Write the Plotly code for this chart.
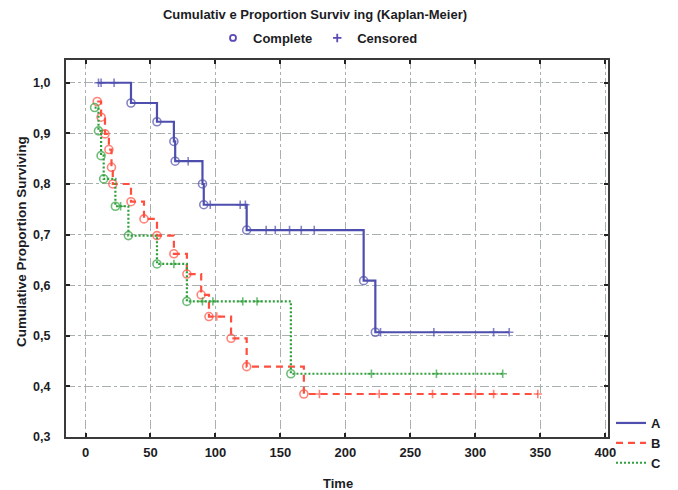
import plotly.graph_objects as go

# ---- data ----
a_time   = [10, 12, 22, 35, 55, 68, 69, 79, 90, 91, 96, 119, 123, 124, 139, 146, 157, 166, 176, 214, 223, 227, 268, 314, 326]
a_surv   = [1.0, 1.0, 1.0, 0.960, 0.923, 0.884, 0.845, 0.845, 0.800, 0.759, 0.759, 0.759, 0.759, 0.709, 0.709, 0.709, 0.709, 0.709, 0.709, 0.609, 0.507, 0.507, 0.507, 0.507, 0.507]
a_status = [0, 0, 0, 1, 1, 1, 1, 0, 1, 1, 0, 0, 0, 1, 0, 0, 0, 0, 0, 1, 1, 0, 0, 0, 0]

b_time   = [9, 12, 15, 18, 20, 21, 35, 45, 55, 68, 78, 89, 95, 101, 112, 124, 168, 180, 226, 267, 300, 314, 348]
b_surv   = [0.963, 0.932, 0.899, 0.868, 0.833, 0.800, 0.765, 0.731, 0.698, 0.662, 0.622, 0.581, 0.538, 0.538, 0.495, 0.439, 0.385, 0.385, 0.385, 0.385, 0.385, 0.385, 0.385]
b_status = [1, 1, 1, 1, 1, 1, 1, 1, 1, 1, 1, 1, 1, 0, 1, 1, 1, 0, 0, 0, 0, 0, 0]

c_time   = [7, 10, 12, 14, 23, 27, 33, 55, 68, 78, 90, 98, 121, 132, 158, 220, 270, 321]
c_surv   = [0.951, 0.905, 0.856, 0.810, 0.756, 0.756, 0.698, 0.642, 0.642, 0.568, 0.568, 0.568, 0.568, 0.568, 0.425, 0.425, 0.425, 0.425]
c_status = [1, 1, 1, 1, 1, 0, 1, 1, 0, 1, 0, 0, 0, 0, 1, 0, 0, 0]

group_names = ["A", "B", "C"]
x_ticks = [0, 50, 100, 150, 200, 250, 300, 350, 400]
y_ticks = [0.3, 0.4, 0.5, 0.6, 0.7, 0.8, 0.9, 1.0]

W, H = 678, 490
FONT = "Liberation Sans, Arial, sans-serif"
TXT = "#1c1c24"
groups = [
    (a_time, a_surv, a_status, "#4e4eae", "solid"),
    (b_time, b_surv, b_status, "#ff4f3f", "7px,5px"),
    (c_time, c_surv, c_status, "#2f9f3c", "2px,2px"),
]

fig = go.Figure()
for name, (t, s, st, col, dash) in zip(group_names, groups):
    fig.add_trace(go.Scatter(
        x=t, y=s, mode="lines", line=dict(color=col, width=2.2, dash=dash, shape="hv"),
        name=name, legend="legend2", showlegend=True, hoverinfo="skip"))
    fig.add_trace(go.Scatter(
        x=t, y=s, mode="markers", showlegend=False,
        marker=dict(symbol=["circle-open" if v == 1 else "cross-thin-open" for v in st],
                    size=[8 if v == 1 else 6 for v in st],
                    color=col, line=dict(color=col, width=1.6))))

# top legend: marker key
fig.add_trace(go.Scatter(x=[None], y=[None], mode="markers", name="Complete", legend="legend",
                         marker=dict(symbol="circle-open", size=6, color="#5a4ab8", line=dict(width=1.8, color="#5a4ab8"))))
fig.add_trace(go.Scatter(x=[None], y=[None], mode="markers", name="Censored", legend="legend",
                         marker=dict(symbol="cross-thin-open", size=6, color="#5a4ab8", line=dict(width=1.8, color="#5a4ab8"))))

axis_common = dict(
    showline=True, linecolor="#3a3a3a", linewidth=2, mirror="ticks",
    ticks="inside", ticklen=4, tickcolor="#222222", tickwidth=2,
    showgrid=True, gridcolor="#a9b0b0", gridwidth=1, griddash="dashdot",
    zeroline=False, automargin=False,
)

fig.update_layout(
    width=W, height=H,
    margin=dict(l=66, r=70, t=60, b=53, autoexpand=False),
    paper_bgcolor="white", plot_bgcolor="white",
    separators=",.",
    font=dict(family=FONT, size=13, color=TXT),
    title=dict(text="<b>Cumulativ e Proportion Surviv ing (Kaplan-Meier)</b>", x=315 / W, xanchor="center",
               xref="container", y=1 - 14 / H, yanchor="middle", yref="container",
               font=dict(family=FONT, size=13, color=TXT)),
    xaxis=dict(range=[-15, 402], tickvals=x_ticks, ticklabelstandoff=2,
               tickfont=dict(family=FONT, size=13, color=TXT, weight="bold"), **axis_common),
    yaxis=dict(range=[0.3, 1.045], tickvals=y_ticks, tickformat=".1f", ticklabelstandoff=11,
               tickfont=dict(family=FONT, size=12.5, color=TXT, weight="bold"), **axis_common),
    legend=dict(orientation="h", xref="container", yref="container", x=318 / W, y=1 - 38 / H,
                xanchor="center", yanchor="middle",
                font=dict(family=FONT, size=13, color=TXT, weight="bold"), bgcolor="rgba(0,0,0,0)",
                itemwidth=30, tracegroupgap=0),
    legend2=dict(orientation="v", xref="container", yref="container", x=611 / W, y=1 - 443 / H,
                 xanchor="left", yanchor="middle",
                 font=dict(family=FONT, size=13, color=TXT, weight="bold"), bgcolor="rgba(0,0,0,0)",
                 itemwidth=30, tracegroupgap=0),
    annotations=[
        dict(text="<b>Time</b>", xref="paper", yref="paper", x=(338 - 66) / 542, y=-(483 - 437) / 377,
             xanchor="center", yanchor="middle", showarrow=False,
             font=dict(family=FONT, size=13, color=TXT)),
        dict(text="<b>Cumulative Proportion Surviving</b>", xref="paper", yref="paper",
             x=-(66 - 21) / 542, y=(437 - 242) / 377, xanchor="center", yanchor="middle",
             textangle=-90, showarrow=False, font=dict(family=FONT, size=13.5, color=TXT)),
    ],
)

fig.write_html("out.html", config={"displayModeBar": False},
               post_script="document.body.style.margin='0';")
